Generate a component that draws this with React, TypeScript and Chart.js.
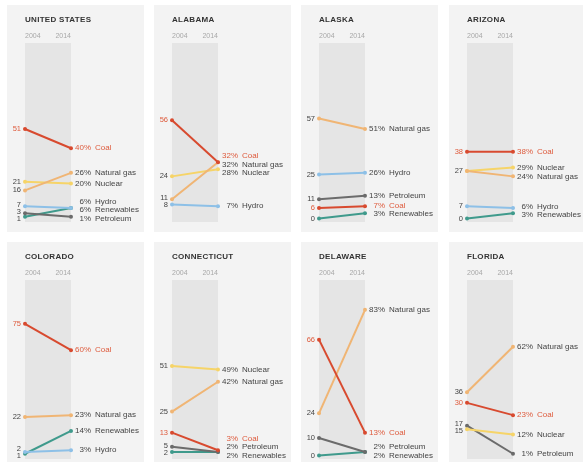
import React, { useEffect, useRef } from 'react';
import { Chart, registerables } from 'chart.js';

Chart.register(...registerables);

// ---------- data ----------
const years = ['2004', '2014'];
const stateNames = ['UNITED STATES', 'ALABAMA', 'ALASKA', 'ARIZONA', 'COLORADO', 'CONNECTICUT', 'DELAWARE', 'FLORIDA'];
const sourceNames = ['Coal', 'Natural gas', 'Nuclear', 'Hydro', 'Petroleum', 'Renewables'];

// share of electricity generation (%), one entry per state (null = not shown)
const coal2004 = [51, 56, 6, 38, 75, 13, 66, 30];
const coal2014 = [40, 32, 7, 38, 60, 3, 13, 23];
const gas2004 = [16, 11, 57, 27, 22, 25, 24, 36];
const gas2014 = [26, 32, 51, 24, 23, 42, 83, 62];
const nuclear2004 = [21, 24, null, 27, null, 51, null, 15];
const nuclear2014 = [20, 28, null, 29, null, 49, null, 12];
const hydro2004 = [7, 8, 25, 7, 2, null, null, null];
const hydro2014 = [6, 7, 26, 6, 3, null, null, null];
const petroleum2004 = [3, null, 11, null, null, 5, 10, 17];
const petroleum2014 = [1, null, 13, null, null, 2, 2, 1];
const renewables2004 = [1, null, 0, 0, 1, 2, 0, null];
const renewables2014 = [6, null, 3, 3, 14, 2, 2, null];

const values2004 = [coal2004, gas2004, nuclear2004, hydro2004, petroleum2004, renewables2004];
const values2014 = [coal2014, gas2014, nuclear2014, hydro2014, petroleum2014, renewables2014];

// ---------- styles ----------
const LINE_COLORS = ['#d84a2f', '#f0b574', '#f6d468', '#8dc0e7', '#6b6b6b', '#3f9a8c'];
const TEXT_COLORS = ['#de5b3d', '#444444', '#444444', '#444444', '#444444', '#444444'];
const FONT = '"Liberation Sans", Arial, Helvetica, sans-serif';
const PANEL_BG = '#f3f3f3';
const BAND_BG = '#e5e5e5';

function spread(ys: number[], gap: number, maxY: number): number[] {
  const idx = ys.map((_, i) => i).sort((a, b) => ys[a] - ys[b] || a - b);
  const clusters = idx.map((i) => ({ members: [i], top: ys[i] }));
  const place = (c: { members: number[]; top: number }) => {
    const n = c.members.length;
    const mean = c.members.reduce((s, i) => s + ys[i], 0) / n;
    let top = mean - ((n - 1) * gap) / 2;
    const bot = top + (n - 1) * gap;
    if (bot > maxY) top -= bot - maxY;
    c.top = top;
  };
  clusters.forEach(place);
  let changed = true;
  while (changed) {
    changed = false;
    for (let k = 0; k < clusters.length - 1; k++) {
      const a = clusters[k];
      const b = clusters[k + 1];
      if (a.top + a.members.length * gap > b.top + 0.001) {
        a.members = a.members.concat(b.members);
        place(a);
        clusters.splice(k + 1, 1);
        changed = true;
        break;
      }
    }
  }
  const out: number[] = new Array(ys.length).fill(0);
  clusters.forEach((c) => c.members.forEach((i, j) => (out[i] = c.top + j * gap)));
  return out;
}

function makePlugin(title: string, srcIdx: number[]) {
  return {
    id: 'slopeDecor',
    beforeDatasetsDraw(chart: any) {
      const { ctx, chartArea } = chart;
      ctx.save();
      ctx.fillStyle = BAND_BG;
      ctx.fillRect(chartArea.left, chartArea.top, chartArea.right - chartArea.left, chartArea.bottom - chartArea.top);
      ctx.restore();
    },
    afterDatasetsDraw(chart: any) {
      const { ctx, chartArea } = chart;
      const yScale = chart.scales.y;
      ctx.save();
      // title
      ctx.fillStyle = '#333333';
      ctx.font = `bold 8px ${FONT}`;
      (ctx as any).letterSpacing = '0.3px';
      ctx.textBaseline = 'middle';
      ctx.textAlign = 'left';
      ctx.fillText(title, chartArea.left, chartArea.top - 23);
      (ctx as any).letterSpacing = '0px';
      // years
      ctx.font = `7px ${FONT}`;
      ctx.fillStyle = '#a8a8a8';
      ctx.textAlign = 'left';
      ctx.fillText(years[0], chartArea.left, chartArea.top - 7);
      ctx.textAlign = 'right';
      ctx.fillText(years[1], chartArea.right, chartArea.top - 7);

      const maxY = yScale.getPixelForValue(0);
      const ds = chart.data.datasets;

      // left labels (dedupe equal values)
      const seen: number[] = [];
      const leftVals: number[] = [];
      const leftSrc: number[] = [];
      ds.forEach((d: any, k: number) => {
        const v = d.data[0];
        if (seen.indexOf(v) >= 0) return;
        seen.push(v);
        leftVals.push(v);
        leftSrc.push(srcIdx[k]);
      });
      const leftY = spread(leftVals.map((v) => yScale.getPixelForValue(v)), 7, maxY);
      ctx.font = `7.5px ${FONT}`;
      ctx.textAlign = 'right';
      leftVals.forEach((v, i) => {
        ctx.fillStyle = TEXT_COLORS[leftSrc[i]];
        ctx.fillText(String(v), chartArea.left - 4, leftY[i]);
      });

      // right labels
      const rightY = spread(ds.map((d: any) => yScale.getPixelForValue(d.data[1])), 8.5, maxY);
      ctx.font = `8px ${FONT}`;
      ds.forEach((d: any, k: number) => {
        ctx.fillStyle = TEXT_COLORS[srcIdx[k]];
        ctx.textAlign = 'right';
        ctx.fillText(`${d.data[1]}%`, chartArea.right + 20, rightY[k]);
        ctx.textAlign = 'left';
        ctx.fillText(d.label, chartArea.right + 24, rightY[k]);
      });
      ctx.restore();
    },
  };
}

const PANEL_W = 137;
const PANEL_H = 227;
const COL_LEFT = [7, 154, 301, 449];
const ROW_TOP = [5, 242];

function Panel({ index }: { index: number }) {
  const ref = useRef<HTMLCanvasElement>(null);
  useEffect(() => {
    const datasets: any[] = [];
    const srcIdx: number[] = [];
    sourceNames.forEach((name, s) => {
      const a = values2004[s][index];
      const b = values2014[s][index];
      if (a == null || b == null) return;
      srcIdx.push(s);
      datasets.push({
        label: name,
        data: [a, b],
        borderColor: LINE_COLORS[s],
        backgroundColor: LINE_COLORS[s],
        pointBackgroundColor: LINE_COLORS[s],
        pointBorderColor: LINE_COLORS[s],
        pointRadius: 2,
        pointBorderWidth: 0,
        borderWidth: 2,
        tension: 0,
        clip: false,
      });
    });
    const chart = new Chart(ref.current as HTMLCanvasElement, {
      type: 'line',
      data: { labels: years, datasets },
      options: {
        animation: false,
        responsive: false,
        devicePixelRatio: 1,
        layout: { padding: { left: 18, right: 73, top: 38, bottom: 10 } },
        plugins: { legend: { display: false }, tooltip: { enabled: false } },
        scales: {
          x: { type: 'category', display: false, offset: false },
          y: { display: false, min: -2, max: 100 },
        },
      },
      plugins: [makePlugin(stateNames[index], srcIdx)],
    } as any);
    return () => chart.destroy();
  }, [index]);

  const col = index % 4;
  const row = Math.floor(index / 4);
  return (
    <div
      style={{
        position: 'absolute',
        left: COL_LEFT[col],
        top: ROW_TOP[row],
        width: PANEL_W,
        height: PANEL_H,
        background: PANEL_BG,
      }}
    >
      <canvas ref={ref} width={PANEL_W} height={PANEL_H} style={{ display: 'block' }} />
    </div>
  );
}

export default function App() {
  return (
    <div
      style={{
        position: 'absolute',
        left: 0,
        top: 0,
        width: 583,
        height: 462,
        overflow: 'hidden',
        background: '#ffffff',
      }}
    >
      {stateNames.map((_, i) => (
        <Panel key={i} index={i} />
      ))}
    </div>
  );
}
